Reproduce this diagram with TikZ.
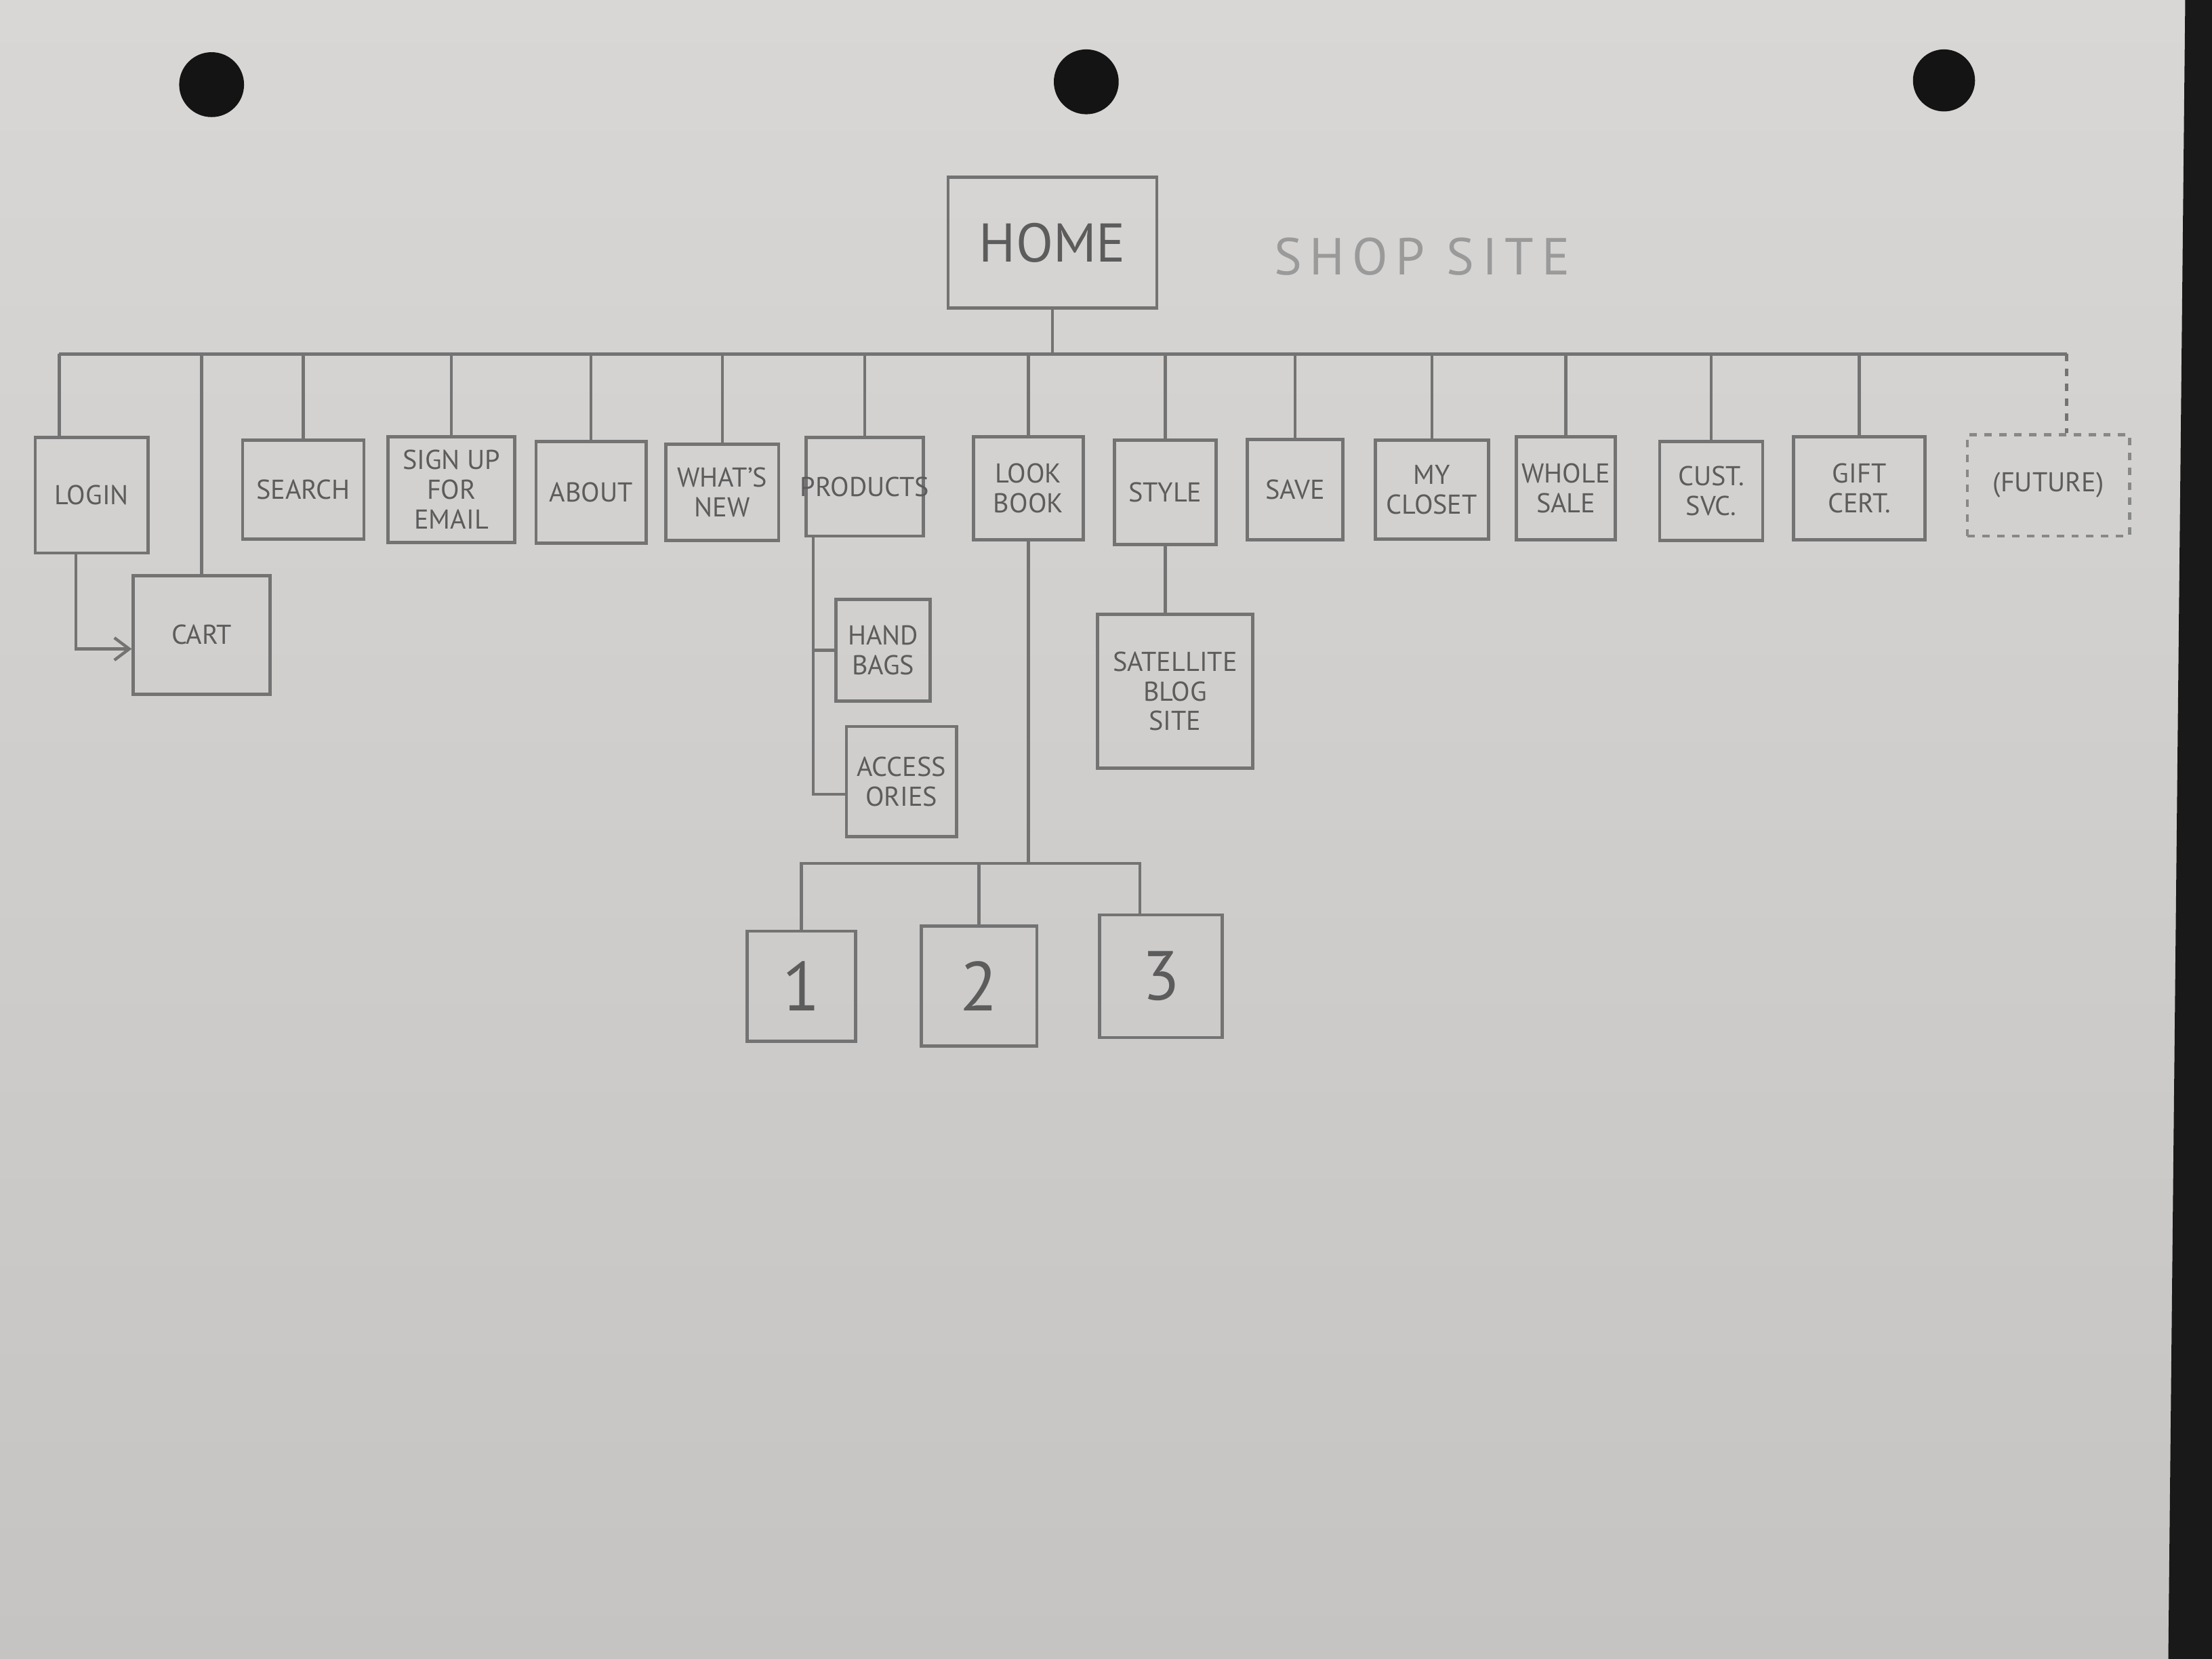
\documentclass[tikz,border=0pt]{standalone}
\usepackage{fontspec}
\setmainfont{PT Sans}
\usetikzlibrary{arrows.meta}
\definecolor{paperT}{HTML}{D9D7D5}
\definecolor{paperB}{HTML}{C6C4C2}
\definecolor{pencil}{HTML}{737373}
\definecolor{lead}{HTML}{5C5C5C}
\definecolor{faint}{HTML}{9A9A9A}
\begin{document}
\begin{tikzpicture}[x=0.02cm,y=-0.02cm,
  sbox/.style={draw=pencil,line width=1.3pt,inner sep=1pt,align=center,text=lead,
    font=\fontsize{11}{12}\selectfont},
  futbox/.style={sbox,dashed,draw=pencil!85},
  link/.style={draw=pencil,line width=1.2pt},
  hole/.style={fill=black!92}
]
\shade[top color=paperT,bottom color=paperB] (0,0) rectangle (1568,1176);
\useasboundingbox (0,0) rectangle (1568,1176);
\fill[black!90] (1549,0) -- (1568,0) -- (1568,1176) -- (1537,1176) -- cycle;
\fill[hole] (150,60) circle (0.46cm);
\fill[hole] (770,58) circle (0.46cm);
\fill[hole] (1378,57) circle (0.44cm);

% top
\node[sbox,minimum width=2.96cm,minimum height=1.86cm,font=\fontsize{22}{24}\selectfont] (home) at (746,172) {HOME};
\node[text=faint,font=\fontsize{21}{22}\selectfont\addfontfeature{LetterSpace=15}] (shop) at (1008,182) {SHOP SITE};

% first level
\node[sbox,minimum width=1.6cm,minimum height=1.64cm] (login) at (65,351) {LOGIN};
\node[sbox,minimum width=1.94cm,minimum height=1.68cm] (cart) at (143,450) {CART};
\node[sbox,minimum width=1.72cm,minimum height=1.4cm] (search) at (215,347) {SEARCH};
\node[sbox,minimum width=1.8cm,minimum height=1.5cm] (signup) at (320,347) {SIGN UP\\FOR\\EMAIL};
\node[sbox,minimum width=1.56cm,minimum height=1.44cm] (about) at (419,349) {ABOUT};
\node[sbox,minimum width=1.6cm,minimum height=1.36cm] (whats) at (512,349) {WHAT’S\\NEW};
\node[sbox,minimum width=1.66cm,minimum height=1.4cm] (products) at (613,345) {\makebox[1.4cm]{PRODUCTS}};
\node[sbox,minimum width=1.56cm,minimum height=1.46cm] (look) at (729,346) {LOOK\\BOOK};
\node[sbox,minimum width=1.44cm,minimum height=1.48cm] (style) at (826,349) {STYLE};
\node[sbox,minimum width=1.36cm,minimum height=1.42cm] (save) at (918,347) {SAVE};
\node[sbox,minimum width=1.6cm,minimum height=1.4cm] (closet) at (1015,347) {MY\\CLOSET};
\node[sbox,minimum width=1.4cm,minimum height=1.46cm] (whole) at (1110,346) {WHOLE\\SALE};
\node[sbox,minimum width=1.46cm,minimum height=1.4cm] (cust) at (1213,348) {CUST.\\SVC.};
\node[sbox,minimum width=1.86cm,minimum height=1.46cm] (gift) at (1318,346) {GIFT\\CERT.};
\node[futbox,minimum width=2.3cm,minimum height=1.44cm] (future) at (1452,344) {(FUTURE)};

% second level
\node[sbox,minimum width=1.34cm,minimum height=1.44cm] (hand) at (626,461) {HAND\\BAGS};
\node[sbox,minimum width=1.56cm,minimum height=1.56cm] (acc) at (639,554) {ACCESS\\ORIES};
\node[sbox,minimum width=2.2cm,minimum height=2.18cm] (sat) at (833,490) {SATELLITE\\BLOG\\SITE};
\node[sbox,minimum width=1.54cm,minimum height=1.56cm,font=\fontsize{28}{30}\selectfont] (b1) at (568,699) {1};
\node[sbox,minimum width=1.64cm,minimum height=1.7cm,font=\fontsize{28}{30}\selectfont] (b2) at (694,699) {2};
\node[sbox,minimum width=1.74cm,minimum height=1.74cm,font=\fontsize{28}{30}\selectfont] (b3) at (823,692) {3};

% bus
\coordinate (busL) at (42,251);
\coordinate (busR) at (1465,251);
\draw[link] (busL) -- (busR);
\draw[link] (home.south) -- (home.south |- busL);
\draw[link] (busL) -- (busL |- login.north);
\foreach \n in {cart,search,signup,about,whats,products,look,style,save,closet,whole,cust,gift}
  \draw[link] (\n.north) -- (\n.north |- busL);
\draw[link,dashed] (busR) -- (busR |- future.north);

% login -> cart
\draw[link,-{Straight Barb[length=6pt,width=9pt]}] ([xshift=0.6cm]login.south west) |- ([yshift=-0.2cm]cart.west);

% products children
\coordinate (pdrop) at ([xshift=0.12cm]products.south west);
\draw[link] (pdrop) |- ([yshift=-0.18cm]acc.west);
\draw[link] (hand.west) -- (hand.west -| pdrop);

% look book children
\coordinate (sub) at (729,612);
\draw[link] (look.south) -- (sub);
\draw[link] (b1.north) |- (sub);
\draw[link] (sub) -| ([xshift=-0.3cm]b3.north);
\draw[link] (b2.north) -- (b2.north |- sub);

% style child
\draw[link] (style.south) -- (style.south |- sat.north);
\end{tikzpicture}
\end{document}
